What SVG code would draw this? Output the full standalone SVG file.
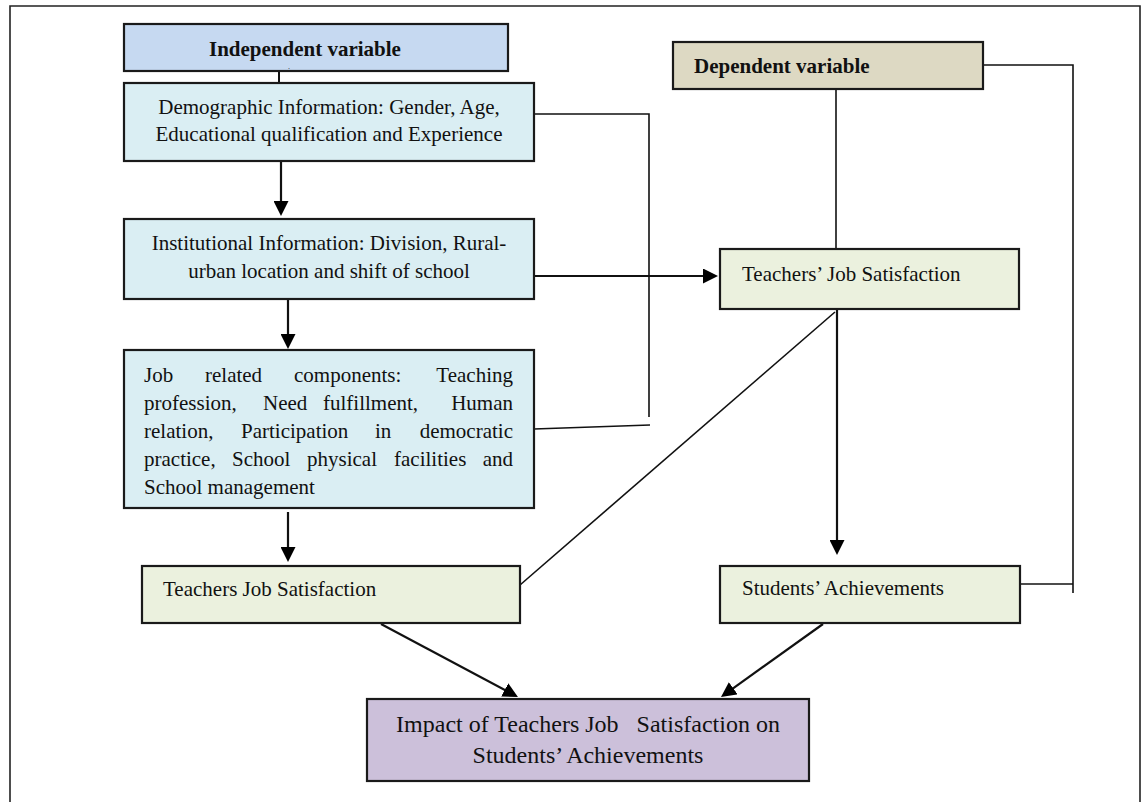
<svg xmlns="http://www.w3.org/2000/svg" width="1148" height="802" viewBox="0 0 1148 802">
<style>
  .box { stroke:#1a1a1a; stroke-width:2.2; }
  .t { font-family:"Liberation Serif","Times New Roman",serif; font-size:21px; fill:#111; }
  .b { font-weight:bold; }
  .c { text-anchor:middle; }
  .ln { fill:none; stroke:#111; stroke-width:2; }
  .thin { fill:none; stroke:#111; stroke-width:1.6; }
  .arr { fill:none; stroke:#111; stroke-width:2.2; marker-end:url(#ah); }
</style>
<defs>
  <marker id="ah" viewBox="0 0 15 15" refX="7" refY="7.5" markerWidth="15" markerHeight="15" markerUnits="userSpaceOnUse" orient="auto">
    <path d="M0,0 L15,7.5 L0,15 z" fill="#000"/>
  </marker>
</defs>
<rect width="1148" height="802" fill="#fff"/>
<path d="M10,802 V6 H1140 V802" fill="none" stroke="#222" stroke-width="1.6"/>

<g id="connectors">
  <line class="ln" x1="279" y1="71" x2="279" y2="83"/>
  <line class="arr" x1="281" y1="161" x2="281" y2="208"/>
  <line class="arr" x1="288" y1="299" x2="288" y2="341"/>
  <line class="arr" x1="288" y1="512" x2="288" y2="554"/>
  <line class="arr" x1="534" y1="276" x2="710" y2="276"/>
  <path class="thin" d="M534,114 H649 V417"/>
  <line class="thin" x1="534" y1="429" x2="650" y2="425"/>
  <line class="thin" x1="836" y1="76" x2="836" y2="249"/>
  <line class="thin" x1="520" y1="585" x2="835" y2="312"/>
  <line class="arr" x1="837" y1="310" x2="837" y2="547"/>
  <path class="thin" d="M983,65 H1073 V593"/>
  <line class="thin" x1="1020" y1="584" x2="1073" y2="584"/>
  <line class="arr" x1="381" y1="624" x2="510.9" y2="693.2"/>
  <line class="arr" x1="823" y1="624" x2="727.5" y2="692.3"/>
</g>

<g id="independent">
  <rect class="box" x="124" y="24" width="384" height="47" fill="#c6d9f1"/>
  <text class="t b" x="209" y="56">Independent variable</text>
  <text class="t" x="288" y="69" style="font-size:8px">.</text>
</g>

<g id="demographic">
  <rect class="box" x="124" y="83" width="410" height="78" fill="#daeef3"/>
  <text class="t c" x="329" y="114">Demographic Information: Gender, Age,</text>
  <text class="t c" x="329" y="141">Educational qualification and Experience</text>
</g>

<g id="institutional">
  <rect class="box" x="124" y="219" width="410" height="80" fill="#daeef3"/>
  <text class="t c" x="329" y="250">Institutional Information: Division, Rural-</text>
  <text class="t c" x="329" y="278">urban location and shift of school</text>
</g>

<g id="job-components">
  <rect class="box" x="124" y="350" width="410" height="158" fill="#daeef3"/>
  <text class="t" y="382"><tspan x="144">Job</tspan><tspan x="205">related</tspan><tspan x="294">components:</tspan><tspan x="513" text-anchor="end">Teaching</tspan></text>
  <text class="t" y="410"><tspan x="144">profession,</tspan><tspan x="263">Need</tspan><tspan x="323">fulfillment,</tspan><tspan x="513" text-anchor="end">Human</tspan></text>
  <text class="t" y="438"><tspan x="144">relation,</tspan><tspan x="241">Participation</tspan><tspan x="375">in</tspan><tspan x="513" text-anchor="end">democratic</tspan></text>
  <text class="t" y="466"><tspan x="144">practice,</tspan><tspan x="232">School</tspan><tspan x="307">physical</tspan><tspan x="394">facilities</tspan><tspan x="513" text-anchor="end">and</tspan></text>
  <text class="t" x="144" y="494">School management</text>
</g>

<g id="tjs-left">
  <rect class="box" x="142" y="566" width="378" height="57" fill="#ebf1de"/>
  <text class="t" x="163" y="596">Teachers Job Satisfaction</text>
</g>

<g id="dependent">
  <rect class="box" x="673" y="42" width="310" height="47" fill="#ddd9c3"/>
  <text class="t b" x="694" y="73">Dependent variable</text>
</g>

<g id="tjs-right">
  <rect class="box" x="720" y="249" width="299" height="60" fill="#ebf1de"/>
  <text class="t" x="742" y="281">Teachers’ Job Satisfaction</text>
</g>

<g id="students">
  <rect class="box" x="720" y="566" width="300" height="57" fill="#ebf1de"/>
  <text class="t" x="742" y="595">Students’ Achievements</text>
</g>

<g id="impact">
  <rect class="box" x="367" y="699" width="442" height="82" fill="#ccc0da"/>
  <text class="t c" x="588" y="732" style="font-size:24px;white-space:pre">Impact of Teachers Job   Satisfaction on</text>
  <text class="t c" x="588" y="763" style="font-size:24px">Students’ Achievements</text>
</g>
</svg>
